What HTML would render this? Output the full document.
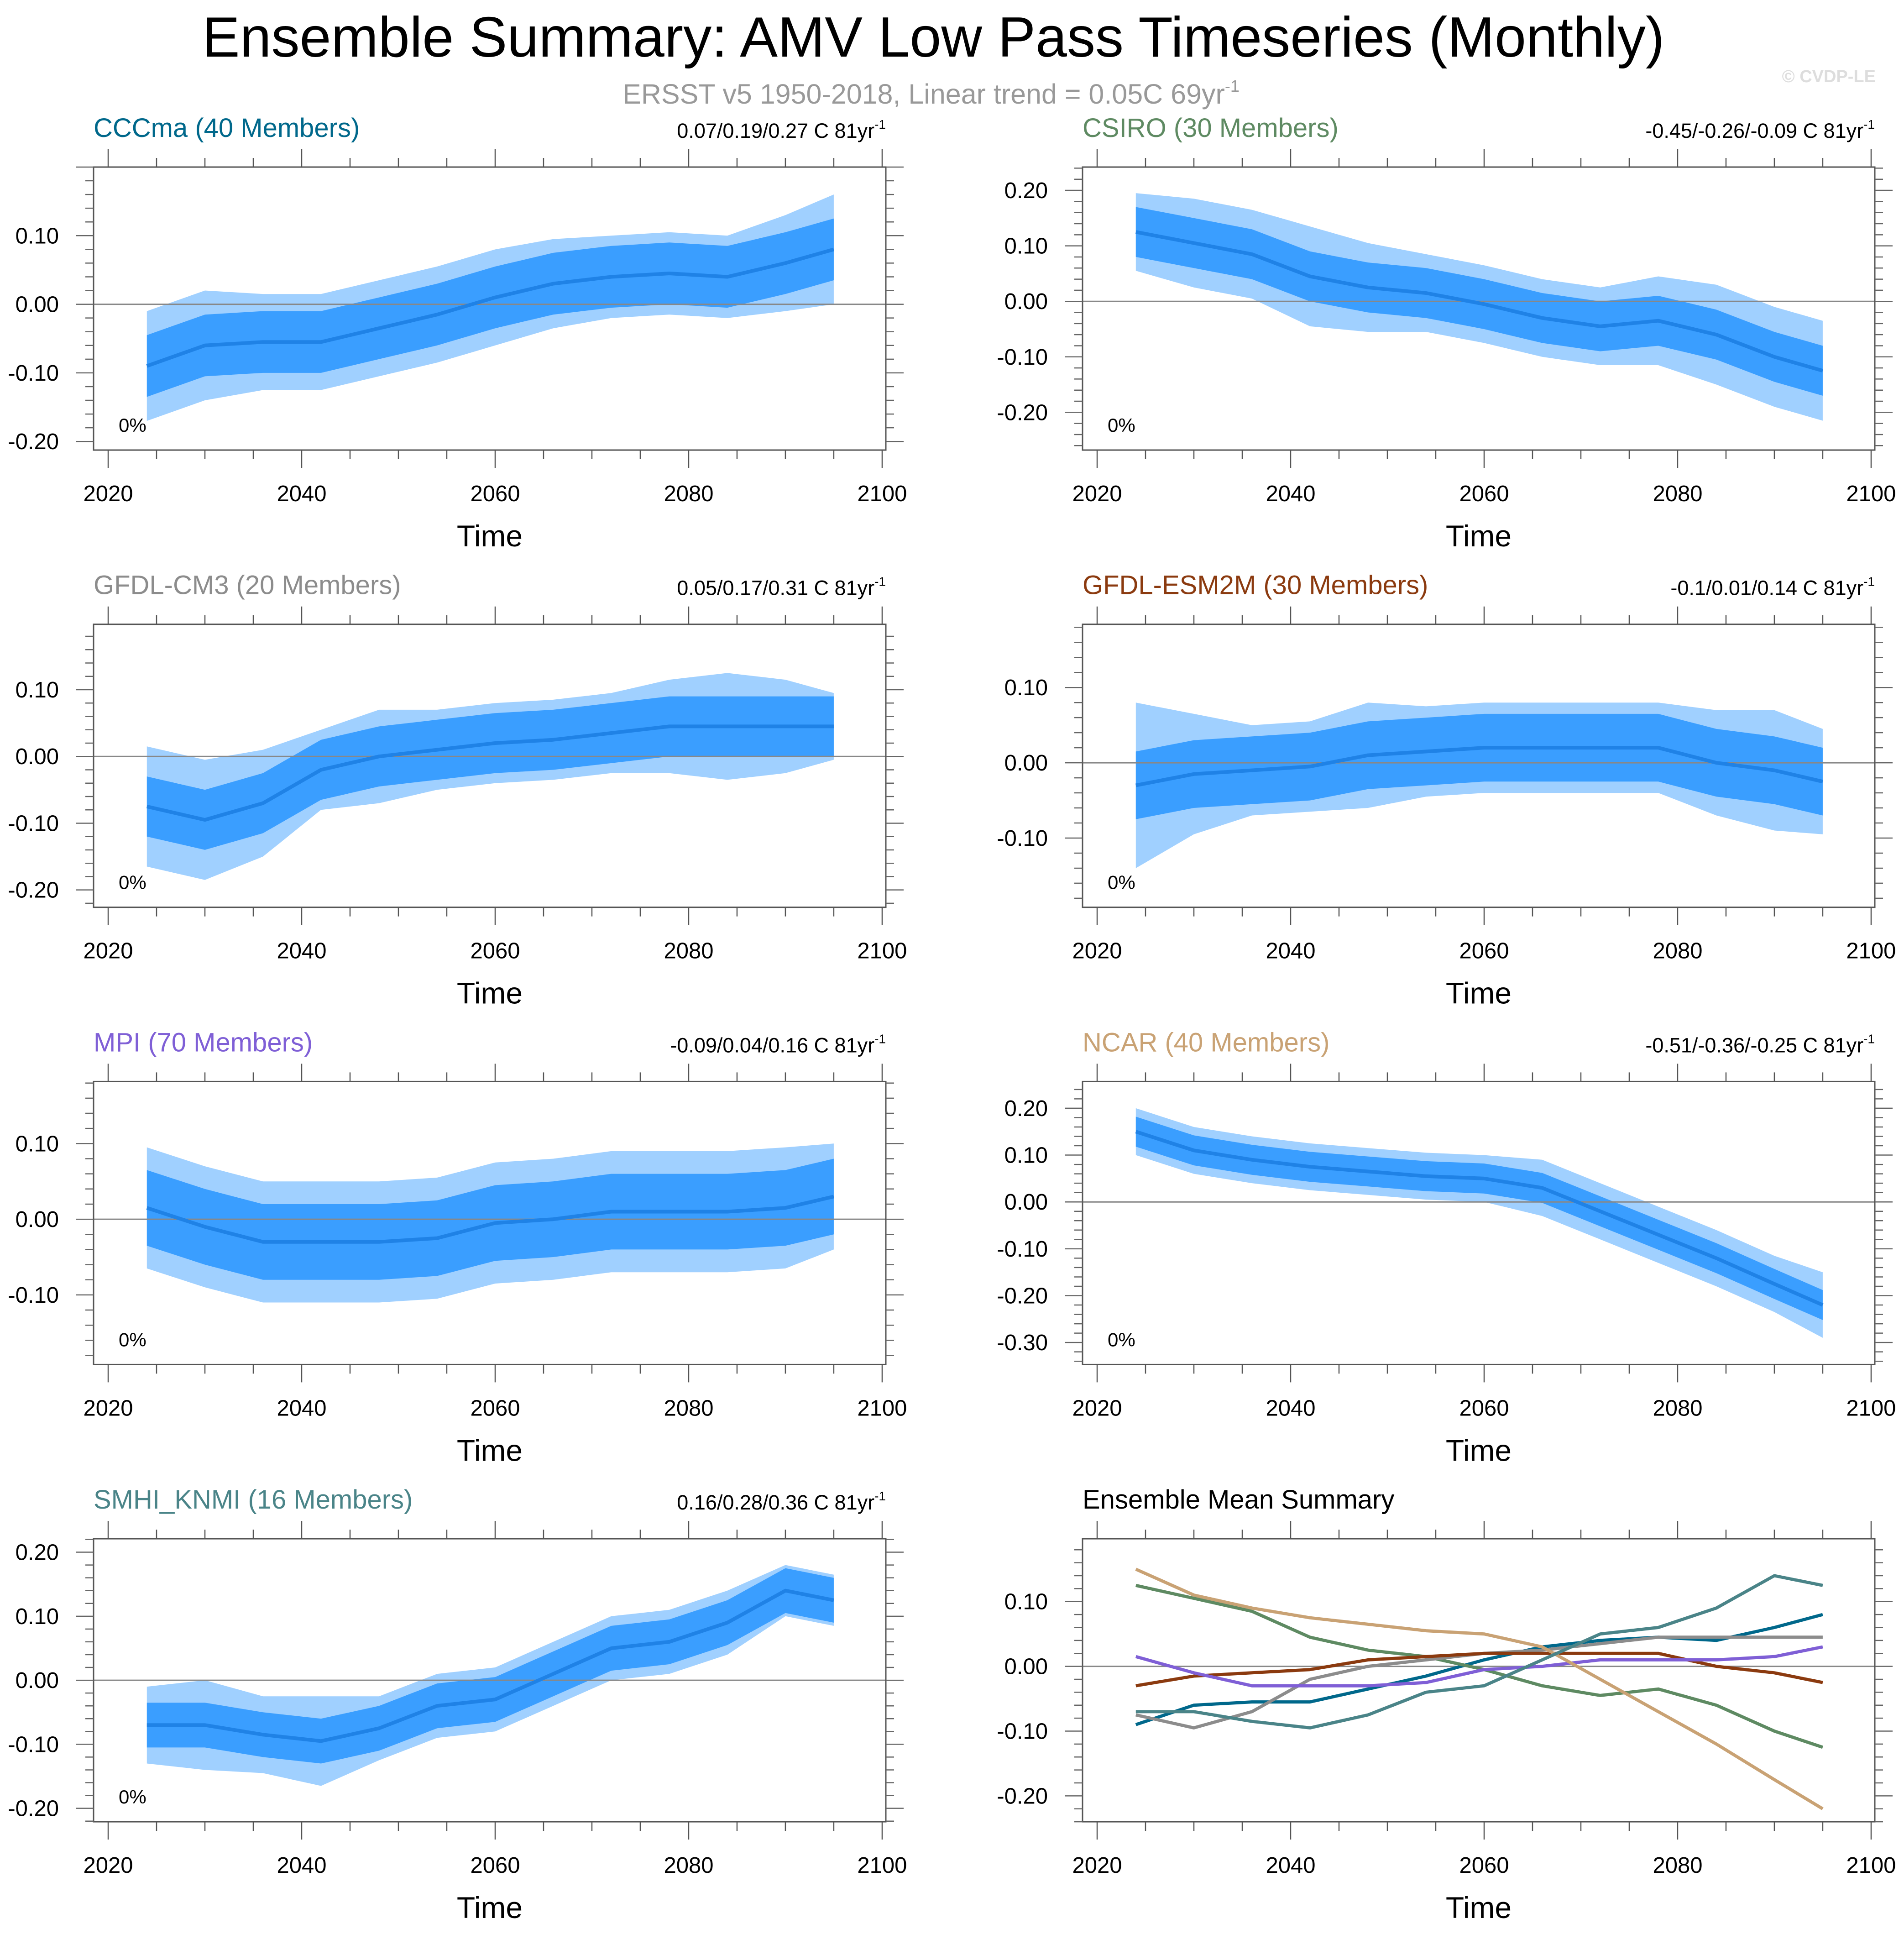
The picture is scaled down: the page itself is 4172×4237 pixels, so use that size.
<!DOCTYPE html>
<html><head><meta charset="utf-8"><style>
html,body{margin:0;padding:0;background:#fff;}
svg{display:block;font-family:"Liberation Sans",sans-serif;}
</style></head><body>
<svg id="chart" width="4172" height="4237" viewBox="0 0 4172 4237" xmlns="http://www.w3.org/2000/svg">
<text x="2045" y="124" font-size="124" text-anchor="middle">Ensemble Summary: AMV Low Pass Timeseries (Monthly)</text>
<text x="2040" y="227" font-size="61" text-anchor="middle" fill="#999">ERSST v5 1950-2018, Linear trend = 0.05C 69yr<tspan font-size="36" dy="-26">-1</tspan></text>
<text x="4110" y="180" font-size="38" font-weight="bold" text-anchor="end" fill="#ddd">© CVDP-LE</text>
<g id="panels"></g>
</svg>
<script>
const years = [2024,2030,2036,2042,2048,2054,2060,2066,2072,2078,2084,2090,2095];
const names = ["CCCma (40 Members)","CSIRO (30 Members)","GFDL-CM3 (20 Members)","GFDL-ESM2M (30 Members)","MPI (70 Members)","NCAR (40 Members)","SMHI_KNMI (16 Members)"];
const trends = ["0.07/0.19/0.27 C 81yr","-0.45/-0.26/-0.09 C 81yr","0.05/0.17/0.31 C 81yr","-0.1/0.01/0.14 C 81yr","-0.09/0.04/0.16 C 81yr","-0.51/-0.36/-0.25 C 81yr","0.16/0.28/0.36 C 81yr"];
const colors = ["#00688b","#5e8a62","#8c8c8c","#8b3a0f","#7f5fd6","#c9a274","#4a8488"];
const meanCCCma = [-0.09,-0.06,-0.055,-0.055,-0.035,-0.015,0.01,0.03,0.04,0.045,0.04,0.06,0.08];
const meanCSIRO = [0.125,0.105,0.085,0.045,0.025,0.015,-0.005,-0.03,-0.045,-0.035,-0.06,-0.1,-0.125];
const meanCM3 = [-0.075,-0.095,-0.07,-0.02,0.0,0.01,0.02,0.025,0.035,0.045,0.045,0.045,0.045];
const meanESM2M = [-0.03,-0.015,-0.01,-0.005,0.01,0.015,0.02,0.02,0.02,0.02,0.0,-0.01,-0.025];
const meanMPI = [0.015,-0.01,-0.03,-0.03,-0.03,-0.025,-0.005,0.0,0.01,0.01,0.01,0.015,0.03];
const meanNCAR = [0.15,0.11,0.09,0.075,0.065,0.055,0.05,0.03,-0.02,-0.07,-0.12,-0.175,-0.22];
const meanSMHI = [-0.07,-0.07,-0.085,-0.095,-0.075,-0.04,-0.03,0.01,0.05,0.06,0.09,0.14,0.125];
const innerWidth = [0.045,0.045,0.045,0.045,0.05,0.032,0.035];
const outerCCCma = [0.08,0.08,0.07,0.07,0.07,0.07,0.07,0.065,0.06,0.06,0.06,0.07,0.08];
const outerCSIRO = [0.07,0.08,0.08,0.09,0.08,0.07,0.07,0.07,0.07,0.08,0.09,0.09,0.09];
const outerCM3 = [0.09,0.09,0.08,0.06,0.07,0.06,0.06,0.06,0.06,0.07,0.08,0.07,0.05];
const outerESM2M = [0.11,0.08,0.06,0.06,0.07,0.06,0.06,0.06,0.06,0.06,0.07,0.08,0.07];
const outerMPI = [0.08,0.08,0.08,0.08,0.08,0.08,0.08,0.08,0.08,0.08,0.08,0.08,0.07];
const outerNCAR = [0.05,0.05,0.05,0.05,0.05,0.05,0.05,0.06,0.06,0.06,0.06,0.06,0.07];
const outerSMHI = [0.06,0.07,0.06,0.07,0.05,0.05,0.05,0.05,0.05,0.05,0.05,0.04,0.04];
const yMaxs = [0.2,0.242,0.198,0.184,0.182,0.257,0.221,0.197];
const yMins = [-0.2125,-0.268,-0.226,-0.192,-0.192,-0.347,-0.221,-0.24];
const yTickLabels = [
 ["0.10","0.00","-0.10","-0.20"],
 ["0.20","0.10","0.00","-0.10","-0.20"],
 ["0.10","0.00","-0.10","-0.20"],
 ["0.10","0.00","-0.10"],
 ["0.10","0.00","-0.10"],
 ["0.20","0.10","0.00","-0.10","-0.20","-0.30"],
 ["0.20","0.10","0.00","-0.10","-0.20"],
 ["0.10","0.00","-0.10","-0.20"]];
const xTickLabels = ["2020","2040","2060","2080","2100"];
const means = [meanCCCma,meanCSIRO,meanCM3,meanESM2M,meanMPI,meanNCAR,meanSMHI];
const outers = [outerCCCma,outerCSIRO,outerCM3,outerESM2M,outerMPI,outerNCAR,outerSMHI];

const NS="http://www.w3.org/2000/svg";
const root=document.getElementById('panels');
function mk(tag,attrs,parent){const e=document.createElementNS(NS,tag);for(const k in attrs)e.setAttribute(k,attrs[k]);(parent||root).appendChild(e);return e;}
const BW=1736,BH=620,XMIN=2018.49,XMAX=2100.38;
function slug(s){return s.split(' ')[0].toLowerCase().replace(/[^a-z0-9]+/g,'-');}

for(let p=0;p<8;p++){
  const col=p%2,row=Math.floor(p/2);
  const L=col?2372:205,T=366+row*1001.7;
  const g=mk('g',{});
  
  
  const ymax=yMaxs[p],ymin=yMins[p];
  const sx=v=>L+(v-XMIN)/(XMAX-XMIN)*BW;
  const sy=v=>T+(ymax-v)/(ymax-ymin)*BH;
  const tt=mk('text',{x:L,y:T-66,'font-size':58,fill:p<7?colors[p]:'#000'},g);
  tt.textContent=p<7?names[p]:'Ensemble Mean Summary';
  
  
  if(p<7){
    const tr=mk('text',{x:L+BW,y:T-64,'font-size':45,'text-anchor':'end'},g);
    tr.textContent=trends[p];
    const sup=mk('tspan',{'font-size':28,dy:-20},tr);sup.textContent='-1';
    
    
    const m=means[p];
    const band=(wf,fill,name)=>{
      let d='';
      years.forEach((yr,i)=>{d+=(i?'L':'M')+sx(yr).toFixed(1)+','+sy(m[i]+wf(i)).toFixed(1);});
      for(let i=years.length-1;i>=0;i--)d+='L'+sx(years[i]).toFixed(1)+','+sy(m[i]-wf(i)).toFixed(1);
      const e=mk('path',{d:d+'Z',fill:fill},g);
      
      
    };
    band(i=>outers[p][i],'#a0d0ff','outer-spread-band');
    band(i=>innerWidth[p],'#3a9eff','inner-spread-band');
  }
  const z=mk('line',{x1:L,x2:L+BW,y1:sy(0),y2:sy(0),stroke:'#888','stroke-width':3},g);
  
  
  const lines = p<7?[[means[p],'#1f82e6',8]]:means.map((m,i)=>[m,colors[i],7]);
  lines.forEach(([m,c,w])=>{
    let d='';years.forEach((yr,i)=>{d+=(i?'L':'M')+sx(yr).toFixed(1)+','+sy(m[i]).toFixed(1);});
    const e=mk('path',{d:d,fill:'none',stroke:c,'stroke-width':w,'stroke-linejoin':'round'},g);
    
    
  });
  const fr=mk('rect',{x:L,y:T,width:BW,height:BH,fill:'none',stroke:'#555','stroke-width':3},g);
  
  
  for(let yr=2020;yr<=2100;yr+=5){
    const x=sx(yr),maj=yr%20===0,len=maj?39:20;
    mk('line',{x1:x,x2:x,y1:T+BH,y2:T+BH+len,stroke:'#555','stroke-width':2.5},g);
    mk('line',{x1:x,x2:x,y1:T,y2:T-len,stroke:'#555','stroke-width':2.5},g);
  }
  xTickLabels.forEach((lb,i)=>{
    const t=mk('text',{x:sx(+lb),y:T+BH+112,'font-size':49,'text-anchor':'middle'},g);
    t.textContent=lb;
    
    
  });
  for(let k=Math.ceil(ymin*50-1e-6);k<=Math.floor(ymax*50+1e-6);k++){
    const y=sy(k/50),maj=k%5===0,len=maj?39:18;
    mk('line',{x1:L,x2:L-len,y1:y,y2:y,stroke:'#666','stroke-width':2.5},g);
    mk('line',{x1:L+BW,x2:L+BW+len,y1:y,y2:y,stroke:'#666','stroke-width':2.5},g);
  }
  yTickLabels[p].forEach(lb=>{
    const t=mk('text',{x:L-76,y:sy(+lb)+17,'font-size':49,'text-anchor':'end'},g);
    t.textContent=lb;
    
    
  });
  const xt=mk('text',{x:L+BW/2,y:T+BH+211,'font-size':66,'text-anchor':'middle'},g);
  xt.textContent='Time';
  
  
  if(p<7){
    const pc=mk('text',{x:L+55,y:T+BH-40,'font-size':42},g);
    pc.textContent='0%';
    
    
  }
}
</script>
</body></html>
